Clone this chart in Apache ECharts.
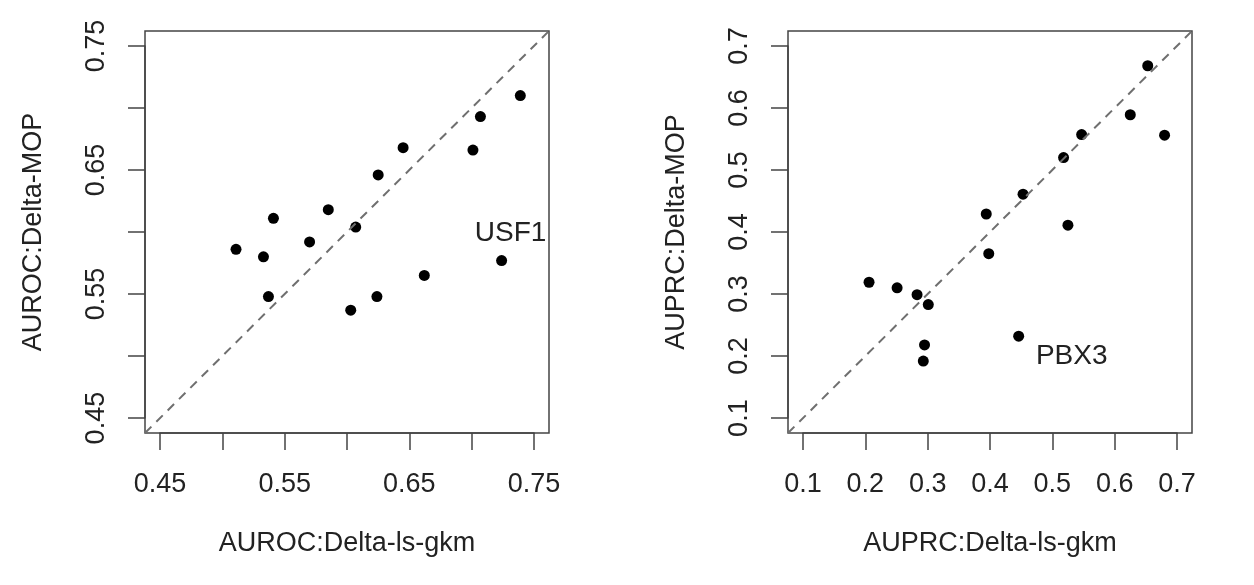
<!DOCTYPE html>
<html>
<head>
    <meta charset="utf-8">
    <title>delta scatter</title>
    <script type="text/javascript" src="https://cdn.jsdelivr.net/npm/echarts@6/dist/echarts.min.js"></script>
    <style>
        html, body { margin: 0; padding: 0; background: #fff; }
        #main { width: 1254px; height: 585px; }
    </style>
</head>
<body>
<div id="main"></div>
<script type="text/javascript">
    // AUROC panel (left)
    var aurocLsGkm = [0.511, 0.533, 0.541, 0.537, 0.570, 0.585, 0.607, 0.603, 0.624, 0.625, 0.645, 0.662, 0.701, 0.707, 0.739, 0.724];
    var aurocMop   = [0.586, 0.580, 0.611, 0.548, 0.592, 0.618, 0.604, 0.537, 0.548, 0.646, 0.668, 0.565, 0.666, 0.693, 0.710, 0.577];
    var aurocTicks = [0.45, 0.75, 0.05];   // first, last, step
    var aurocLabelled = ['0.45', '0.55', '0.65', '0.75'];

    // AUPRC panel (right)
    var auprcLsGkm = [0.206, 0.251, 0.283, 0.301, 0.295, 0.293, 0.394, 0.398, 0.453, 0.446, 0.518, 0.525, 0.547, 0.625, 0.680, 0.653];
    var auprcMop   = [0.319, 0.310, 0.299, 0.283, 0.218, 0.192, 0.429, 0.365, 0.461, 0.232, 0.520, 0.411, 0.557, 0.589, 0.556, 0.668];
    var auprcTicks = [0.1, 0.7, 0.1];
    var auprcLabelled = ['0.1', '0.2', '0.3', '0.4', '0.5', '0.6', '0.7'];

    var usf1Index = 15;
    var pbx3Index = 9;

    function zip(a, b) {
        var out = [];
        for (var i = 0; i < a.length; i++) out.push([a[i], b[i]]);
        return out;
    }

    var chart = echarts.init(document.getElementById('main'));

    var FONT = 'Liberation Sans, Arial, sans-serif';
    var TXT = '#222';
    var AX = '#444';

    // plot boxes in px
    var boxes = [
        {left: 145, top: 31, width: 404, height: 402},
        {left: 788, top: 31, width: 404, height: 402}
    ];
    var panels = [
        {ticks: aurocTicks, labelled: aurocLabelled, dec: 2, xName: 'AUROC:Delta-ls-gkm', yName: 'AUROC:Delta-MOP'},
        {ticks: auprcTicks, labelled: auprcLabelled, dec: 1, xName: 'AUPRC:Delta-ls-gkm', yName: 'AUPRC:Delta-MOP'}
    ];

    var grids = [], xAxes = [], yAxes = [], series = [];

    panels.forEach(function (p, k) {
        var b = boxes[k];
        var first = p.ticks[0], last = p.ticks[1], step = p.ticks[2];
        var pad = (last - first) * 0.04;   // R style axis extension
        var lo = first - pad, hi = last + pad;
        var insX = b.width * pad / (hi - lo);
        var insY = b.height * pad / (hi - lo);

        // box grid (data)
        grids.push({left: b.left, top: b.top, width: b.width, height: b.height,
            show: true, borderColor: AX, borderWidth: 1.5, backgroundColor: 'transparent'});
        // tick grid
        grids.push({left: b.left + insX, top: b.top + insY, width: b.width - 2 * insX, height: b.height - 2 * insY});

        var fmt = function (v) {
            var s = v.toFixed(p.dec);
            return p.labelled.indexOf(s) >= 0 ? s : '';
        };

        xAxes.push({gridIndex: 2 * k, type: 'value', min: lo, max: hi, show: false});
        yAxes.push({gridIndex: 2 * k, type: 'value', min: lo, max: hi, show: false});

        xAxes.push({
            gridIndex: 2 * k + 1, type: 'value', min: first, max: last, interval: step,
            position: 'bottom', offset: insY,
            axisLine: {show: true, onZero: false, lineStyle: {color: AX, width: 1.5}},
            axisTick: {show: true, length: 17, lineStyle: {color: AX, width: 1.5}},
            axisLabel: {formatter: fmt, margin: 38, fontSize: 27, fontFamily: FONT, color: TXT, showMinLabel: true, showMaxLabel: true},
            splitLine: {show: false},
            name: p.xName, nameLocation: 'middle', nameGap: 97,
            nameTextStyle: {fontSize: 27, fontFamily: FONT, color: TXT}
        });
        yAxes.push({
            gridIndex: 2 * k + 1, type: 'value', min: first, max: last, interval: step,
            position: 'left', offset: insX,
            axisLine: {show: true, onZero: false, lineStyle: {color: AX, width: 1.5}},
            axisTick: {show: true, length: 17, lineStyle: {color: AX, width: 1.5}},
            axisLabel: {formatter: fmt, rotate: 90, margin: 35, fontSize: 27, fontFamily: FONT, color: TXT, showMinLabel: true, showMaxLabel: true},
            splitLine: {show: false},
            name: p.yName, nameLocation: 'middle', nameGap: 98,
            nameTextStyle: {fontSize: 27, fontFamily: FONT, color: TXT}
        });

        // dashed identity line
        series.push({
            type: 'line', xAxisIndex: 2 * k, yAxisIndex: 2 * k,
            data: [[lo, lo], [hi, hi]], symbol: 'none', silent: true,
            lineStyle: {color: '#6f6f6f', width: 2, type: [9, 7]}
        });
    });

    var labelStyle = {show: true, position: 'inside', fontSize: 28, fontFamily: FONT,
        color: TXT, textBorderWidth: 0};
    var leftData = zip(aurocLsGkm, aurocMop).map(function (d, i) {
        if (i !== usf1Index) return d;
        return {value: d, label: Object.assign({formatter: 'USF1', offset: [9, -27]}, labelStyle)};
    });
    var rightData = zip(auprcLsGkm, auprcMop).map(function (d, i) {
        if (i !== pbx3Index) return d;
        return {value: d, label: Object.assign({formatter: 'PBX3', offset: [53, 20]}, labelStyle)};
    });

    series.push({type: 'scatter', xAxisIndex: 0, yAxisIndex: 0, data: leftData,
        symbolSize: 11, itemStyle: {color: '#000', opacity: 1}, silent: true});
    series.push({type: 'scatter', xAxisIndex: 2, yAxisIndex: 2, data: rightData,
        symbolSize: 11, itemStyle: {color: '#000', opacity: 1}, silent: true});

    chart.setOption({
        backgroundColor: '#fff',
        animation: false,
        grid: grids,
        xAxis: xAxes,
        yAxis: yAxes,
        series: series
    });
</script>
</body>
</html>
